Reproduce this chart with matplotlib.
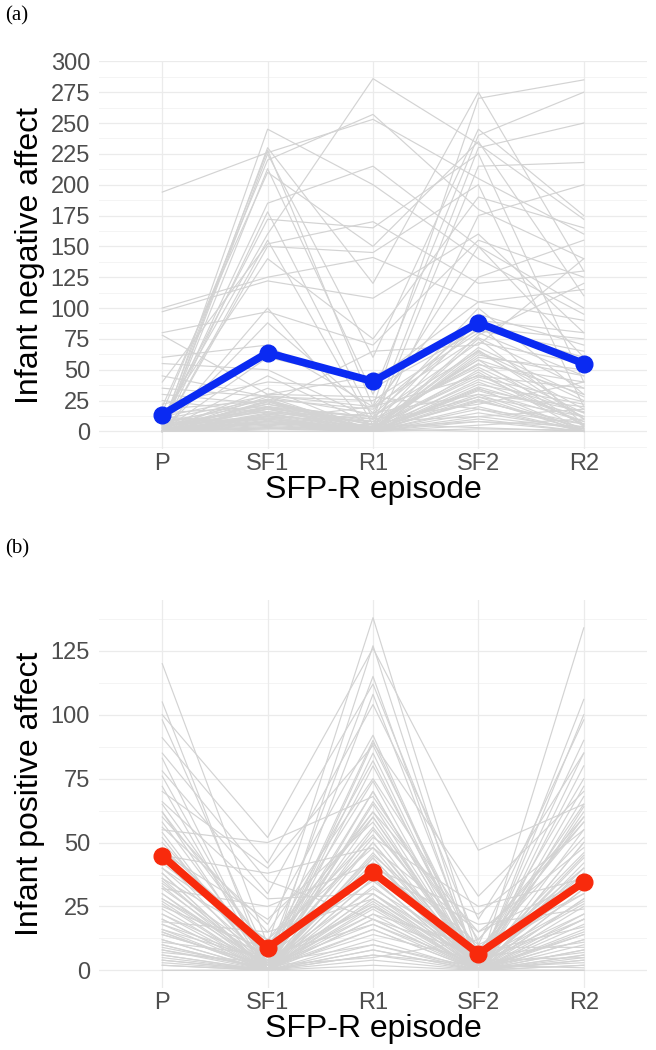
import matplotlib
matplotlib.use("Agg")
import matplotlib.pyplot as plt
import numpy as np

episodes = ["P", "SF1", "R1", "SF2", "R2"]

# Panel (a): individual infant negative affect trajectories
neg_P = [194, 10, 2, 0, 5, 0, 15, 0, 20, 3, 0, 8, 0, 40, 0, 12, 100, 97, 0, 80,
         0, 60, 0, 55, 0, 78, 35, 0, 30, 5, 0, 25, 0, 10, 0, 45, 0, 18, 0, 8,
         0, 2, 0, 5, 0, 0, 12, 0, 3, 0, 0, 22, 0, 6, 0, 15, 0, 4, 0, 0,
         0, 3, 0, 6, 0, 10, 0, 2, 0, 5, 0, 0, 8, 0, 1, 0, 4, 0, 12, 0]
neg_SF1 = [226, 160, 245, 230, 228, 225, 220, 213, 210, 185, 178, 172, 155, 152, 150, 140, 125, 122, 100, 97,
           88, 70, 60, 50, 45, 30, 28, 25, 22, 20, 18, 15, 12, 10, 8, 28, 5, 25, 3, 22,
           15, 30, 0, 12, 8, 20, 5, 2, 0, 10, 35, 40, 18, 26, 14, 20, 6, 16, 24, 9,
           12, 22, 8, 18, 4, 26, 14, 6, 20, 10, 28, 3, 16, 7, 24, 11, 19, 2, 29, 13]
neg_R1 = [253, 286, 200, 120, 20, 60, 257, 30, 150, 215, 10, 165, 5, 170, 145, 75, 141, 108, 0, 70,
          15, 20, 40, 10, 5, 45, 25, 0, 65, 12, 3, 8, 0, 20, 2, 0, 15, 5, 0, 10,
          0, 28, 0, 8, 0, 3, 0, 6, 0, 2, 0, 35, 0, 18, 2, 0, 4, 10, 0, 1,
          0, 5, 0, 12, 0, 0, 3, 0, 8, 0, 14, 0, 4, 0, 2, 0, 6, 0, 20, 1]
neg_SF2 = [205, 233, 140, 275, 270, 245, 180, 240, 235, 150, 230, 225, 215, 120, 200, 190, 105, 160, 175, 155,
           150, 125, 105, 100, 95, 85, 80, 75, 70, 65, 60, 55, 50, 45, 40, 35, 30, 28, 25, 22,
           20, 18, 15, 12, 10, 8, 5, 3, 2, 0, 90, 82, 78, 88, 68, 62, 48, 52, 38, 30,
           42, 58, 33, 72, 26, 64, 46, 18, 54, 36, 84, 12, 44, 28, 66, 34, 58, 8, 76, 24]
neg_R2 = [160, 172, 95, 130, 285, 175, 140, 275, 110, 60, 250, 40, 218, 130, 20, 165, 115, 80, 200, 125,
          100, 155, 90, 30, 70, 60, 45, 10, 140, 25, 50, 15, 5, 35, 8, 0, 20, 12, 3, 40,
          0, 6, 2, 18, 0, 4, 10, 0, 1, 0, 80, 65, 120, 5, 28, 45, 0, 12, 22, 2,
          15, 30, 8, 55, 0, 18, 6, 0, 40, 12, 75, 2, 24, 0, 10, 16, 4, 0, 35, 6]
neg_mean = [13.5, 63.7, 40.5, 88, 55]

# Panel (b): individual infant positive affect trajectories
pos_P = [120, 105, 100, 98, 91, 83, 78, 76, 72, 70, 65, 62, 60, 58, 55, 52, 50, 48, 46, 44,
         42, 40, 38, 36, 35, 33, 32, 30, 28, 27, 25, 24, 22, 20, 19, 18, 16, 15, 14, 12,
         11, 10, 9, 8, 7, 6, 5, 4, 3, 2, 85, 10, 30, 56, 0, 66, 15, 40, 0, 45,
         34, 22, 48, 12, 28, 6, 38, 18, 54, 8, 26, 44, 16, 4, 32, 62, 20, 2, 36, 14]
pos_SF1 = [10, 0, 52, 5, 42, 0, 30, 2, 0, 40, 8, 0, 15, 3, 50, 0, 6, 2, 20, 0,
           10, 4, 0, 12, 1, 0, 25, 0, 5, 0, 8, 0, 3, 0, 15, 0, 4, 0, 2, 0,
           6, 0, 1, 0, 3, 0, 0, 0, 0, 0, 35, 0, 2, 18, 0, 28, 0, 12, 0, 38,
           5, 0, 10, 0, 2, 0, 0, 4, 0, 1, 0, 6, 0, 0, 3, 8, 0, 0, 0, 2]
pos_R1 = [138, 127, 126, 115, 112, 108, 104, 90, 89, 88, 82, 80, 75, 70, 68, 65, 62, 60, 58, 55,
          53, 52, 50, 48, 45, 44, 42, 40, 38, 36, 35, 33, 32, 30, 28, 27, 25, 24, 22, 20,
          18, 16, 14, 12, 10, 8, 6, 4, 2, 0, 20, 70, 5, 92, 40, 30, 85, 60, 25, 48,
          50, 30, 62, 20, 42, 10, 46, 26, 66, 16, 36, 56, 22, 8, 40, 74, 28, 6, 44, 18]
pos_SF2 = [5, 0, 47, 0, 10, 2, 20, 0, 29, 5, 0, 3, 12, 0, 8, 0, 15, 2, 0, 6,
           0, 25, 2, 0, 10, 0, 4, 0, 18, 0, 3, 0, 7, 0, 1, 0, 5, 0, 9, 0,
           2, 0, 4, 0, 1, 0, 2, 0, 0, 0, 6, 0, 12, 0, 22, 5, 0, 0, 0, 15,
           0, 3, 0, 0, 6, 0, 2, 0, 8, 0, 0, 4, 0, 0, 1, 0, 3, 0, 0, 0]
pos_R2 = [60, 134, 65, 106, 98, 90, 85, 80, 70, 75, 68, 62, 58, 55, 52, 50, 48, 45, 42, 40,
          38, 36, 34, 32, 30, 28, 27, 25, 24, 22, 20, 18, 17, 15, 14, 12, 11, 10, 9, 8,
          7, 6, 5, 4, 3, 2, 1, 0, 0, 0, 38, 100, 60, 20, 55, 65, 72, 5, 85, 35,
          40, 26, 50, 14, 30, 8, 44, 20, 58, 6, 28, 46, 16, 4, 36, 64, 22, 2, 32, 12]
pos_mean = [44.8, 8.8, 38.3, 6.5, 34.5]

neg_ylabel = "Infant negative affect"
pos_ylabel = "Infant positive affect"
xlabel = "SFP-R episode"

plt.rcParams['font.family'] = ['Liberation Sans', 'DejaVu Sans']

fig = plt.figure(figsize=(6.56, 10.5), dpi=100)
W, H = 656, 1050


def make_axes(top_px, bottom_px):
    left, right = 99, 647
    return fig.add_axes([left / W, 1 - bottom_px / H, (right - left) / W, (bottom_px - top_px) / H])


def draw_panel(ax, cols, mean, color, major_step, ylabel):
    data = np.array(cols, dtype=float)  # shape (5, n)
    x = np.arange(len(episodes))
    for i in range(data.shape[1]):
        ax.plot(x, data[:, i], color="#D3D3D3", lw=0.85, zorder=2)
    ax.plot(x, mean, color=color, lw=5.5, marker="o", markersize=12, zorder=4,
            solid_capstyle="round")
    ymax = data.max()
    ymin = 0.0
    pad = 0.05 * (ymax - ymin)
    ax.set_ylim(ymin - pad, ymax + pad)
    ax.set_xlim(-0.6, len(episodes) - 1 + 0.6)
    majors = np.arange(0, ymax + pad + 1e-9, major_step)
    ax.set_yticks(majors)
    ax.set_yticklabels([f"{int(v)}" for v in majors])
    minors = np.arange(-major_step / 2, ymax + pad, major_step)
    minors = [m for m in minors if m > ymin - pad and m < ymax + pad]
    ax.set_yticks(minors, minor=True)
    ax.set_xticks(x)
    ax.set_xticklabels(episodes)
    for m in majors:
        ax.axhline(m, color="#EBEBEB", lw=0.9, zorder=1)
    for m in minors:
        ax.axhline(m, color="#F2F2F2", lw=0.6, zorder=1)
    for xi in x:
        ax.axvline(xi, color="#EBEBEB", lw=0.9, zorder=1)
    for s in ax.spines.values():
        s.set_visible(False)
    ax.tick_params(axis="both", which="both", length=0)
    ax.tick_params(axis="y", which="major", labelsize=17, labelcolor="#4D4D4D", pad=6.5)
    ax.tick_params(axis="x", which="major", labelsize=17, labelcolor="#4D4D4D", pad=3)
    ax.set_ylabel(ylabel, fontsize=23, color="black", labelpad=4)
    ax.set_xlabel(xlabel, fontsize=23, color="black", labelpad=0)


ax1 = make_axes(61, 449)
draw_panel(ax1, [neg_P, neg_SF1, neg_R1, neg_SF2, neg_R2], neg_mean, "#0A2AF2", 25, neg_ylabel)

ax2 = make_axes(600, 988)
draw_panel(ax2, [pos_P, pos_SF1, pos_R1, pos_SF2, pos_R2], pos_mean, "#F82A0C", 25, pos_ylabel)

fig.text(5 / W, 1 - 16 / H, "(a)", fontsize=15, family=["Liberation Serif", "DejaVu Serif"],
         va="center", ha="left")
fig.text(5 / W, 1 - 549 / H, "(b)", fontsize=15, family=["Liberation Serif", "DejaVu Serif"],
         va="center", ha="left")

fig.savefig("out.png", dpi=100)
